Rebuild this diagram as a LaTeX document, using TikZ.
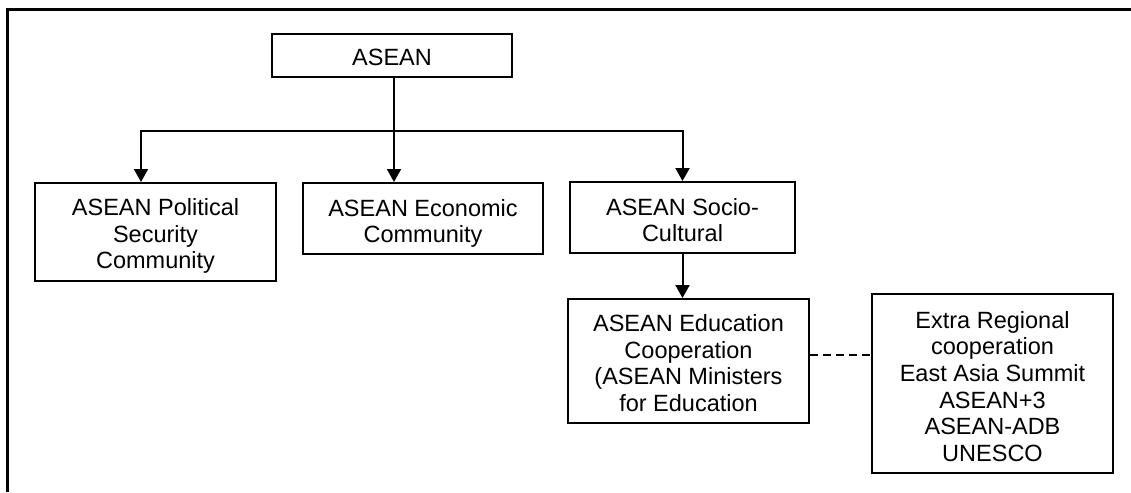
\documentclass[tikz,border=0pt]{standalone}
\usepackage{fontspec}
\setmainfont{Liberation Sans}
\usetikzlibrary{arrows.meta}
\begin{document}
\begin{tikzpicture}[x=1pt,y=-1pt,
  box/.style={draw=black, line width=2pt, inner sep=0pt, rectangle},
  txt/.style={align=center, inner sep=0pt, anchor=north, font=\fontsize{23.5}{26.6}\selectfont},
  arr/.style={line width=2pt, -{Triangle[width=14pt,length=13pt]}},
  conn/.style={line width=2pt},
  dconn/.style={line width=2pt, dash pattern=on 8pt off 5pt},
  frameline/.style={line width=2.6pt, draw=black}]
\useasboundingbox (0,0) rectangle (1131,492);
% frame (left and top edges)
\coordinate (fBL) at (7.5,492);
\coordinate (fTL) at (7.5,9.5);
\coordinate (fTR) at (1131,9.5);
\draw[frameline] (fBL) -- (fTL) -- (fTR);

% boxes
\node[box, minimum width=240pt, minimum height=43pt] (asean) at (392,55.5) {};
\node[box, minimum width=241pt, minimum height=98pt] (pol) at (155.5,232) {};
\node[box, minimum width=240pt, minimum height=71pt] (eco) at (423,218.5) {};
\node[box, minimum width=225pt, minimum height=71pt] (soc) at (682.5,217.5) {};
\node[box, minimum width=241pt, minimum height=124pt] (edu) at (688.5,361) {};
\node[box, minimum width=241pt, minimum height=179pt] (ext) at (992.5,383.5) {};

% texts
\node[txt] (aseant) at ([yshift=-16pt]asean.north) {ASEAN};
\node[txt] (polt) at ([yshift=-16.5pt]pol.north) {ASEAN Political\\Security\\Community};
\node[txt] (ecot) at ([yshift=-17pt]eco.north) {ASEAN Economic\\Community};
\node[txt] (soct) at ([yshift=-17pt]soc.north) {ASEAN Socio-\\Cultural};
\node[txt] (edut) at ([yshift=-16.5pt]edu.north) {ASEAN Education\\Cooperation\\(ASEAN Ministers\\for Education};
\node[txt] (extt) at ([yshift=-18pt]ext.north) {Extra Regional\\cooperation\\East Asia Summit\\ASEAN+3\\ASEAN-ADB\\UNESCO};

% connectors
\coordinate (j) at (394,131);
\coordinate (dl) at (0,355);
\draw[conn] (asean.south -| j) -- (j);
\draw[arr] (j) -| ([xshift=-14.5pt]pol.north);
\draw[arr] (j) -- (j |- eco.north);
\draw[arr] (j) -| (soc.north);
\draw[arr] (soc.south) -- (soc.south |- edu.north);
\draw[dconn] (edu.east |- dl) -- (ext.west |- dl);
\end{tikzpicture}
\end{document}
